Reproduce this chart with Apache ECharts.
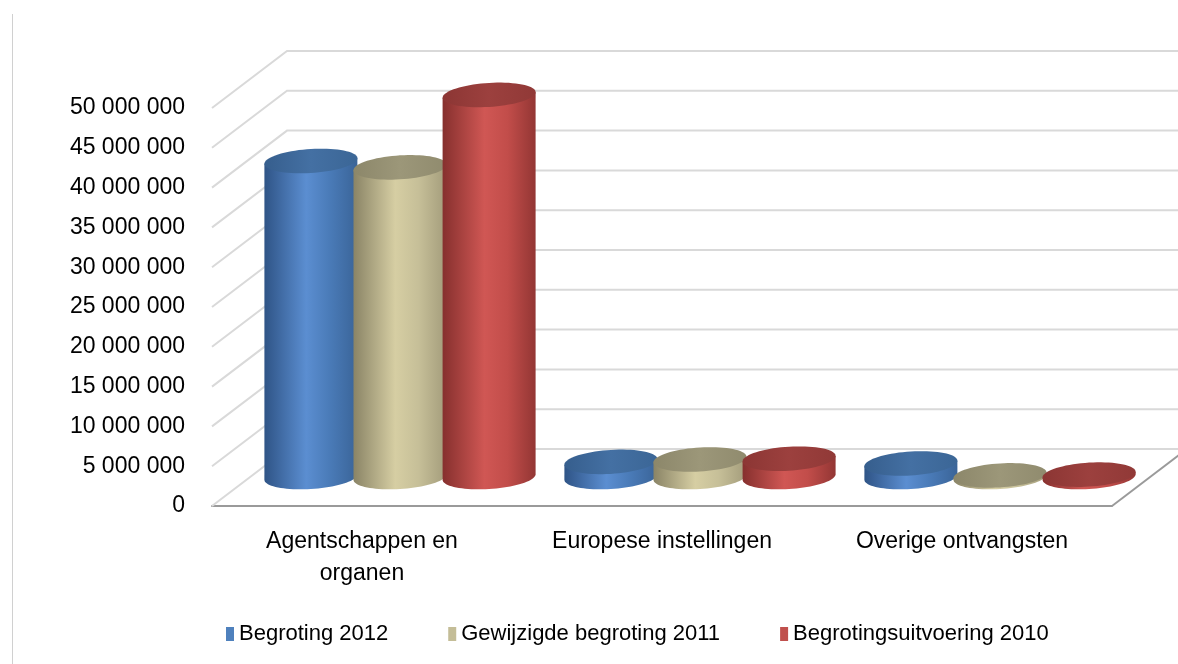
<!DOCTYPE html>
<html>
<head>
<meta charset="utf-8">
<script src="https://cdn.jsdelivr.net/npm/echarts@6/dist/echarts.min.js"></script>
<style>
html,body{margin:0;padding:0;background:#fff;}
#chart{width:1178px;height:664px;}
</style>
</head>
<body>
<div id="chart"></div>
<script>
// ---- data ----
const categories = ['Agentschappen en\norganen', 'Europese instellingen', 'Overige ontvangsten'];
const seriesNames = ['Begroting 2012', 'Gewijzigde begroting 2011', 'Begrotingsuitvoering 2010'];
const begroting2012 = [39700000, 1900000, 1700000];
const gewijzigd2011 = [38900000, 2200000, 200000];
const uitvoering2010 = [48000000, 2300000, 300000];
const yTicks = [0, 5000000, 10000000, 15000000, 20000000, 25000000, 30000000, 35000000, 40000000, 45000000, 50000000];

// ---- style constants ----
const FONT = "'Liberation Sans', Arial, sans-serif";
const WALL_DX = 75, WALL_DY = -57;      // depth of floor / back wall
const MID_DX = 38, MID_DY = -29;        // cylinders sit mid-depth
const RY = 12, SHEAR = 0.06;
const palettes = [
  {base:'#4F81BD', side:['#2f5486','#5b8ed1','#4a7bb8','#3a6498'], top:['#365e8d','#4470a3','#3b6696']},
  {base:'#C4BD97', side:['#8a8466','#d6cea3','#c6bf98','#a39c7b'], top:['#8c876a','#9c9779','#908b6e']},
  {base:'#C0504D', side:['#86302e','#d05754','#c24d4a','#933634'], top:['#8c3634','#9c403e','#913937']}
];
const dataSets = [begroting2012, gewijzigd2011, uitvoering2010];

function fmt(v){ return String(v).replace(/\B(?=(\d{3})+(?!\d))/g, ' '); }

function cylinderRenderer(si){
  const pal = palettes[si];
  return function(params, api){
    const cat = api.value(0), val = api.value(1);
    const base = api.coord([cat, 0]);
    const top = api.coord([cat, val]);
    const band = api.size([1, 0])[0];
    const cx = base[0] + MID_DX + (si - 1) * band * 0.297;
    const rx = band * 0.155;
    const by = base[1] + MID_DY, ty = top[1] + MID_DY;
    const pt = (cy, t) => [cx + rx * Math.cos(t), cy + RY * Math.sin(t) - rx * Math.cos(t) * SHEAR];
    const body = [pt(ty, Math.PI)];
    const N = 40;
    for (let k = 0; k <= N; k++) body.push(pt(by, Math.PI - Math.PI * k / N));
    body.push(pt(ty, 0));
    const cap = [];
    for (let k = 0; k < 72; k++) cap.push(pt(ty, 2 * Math.PI * k / 72));
    return {
      type: 'group',
      children: [
        {type:'polygon', shape:{points: body}, style:{fill: new echarts.graphic.LinearGradient(0,0,1,0,[
          {offset:0,color:pal.side[0]},{offset:0.45,color:pal.side[1]},{offset:0.7,color:pal.side[2]},{offset:1,color:pal.side[3]}])}},
        {type:'polygon', shape:{points: cap}, style:{fill: new echarts.graphic.LinearGradient(0,0,1,0,[
          {offset:0,color:pal.top[0]},{offset:0.5,color:pal.top[1]},{offset:1,color:pal.top[2]}])}}
      ]
    };
  };
}

const chart = echarts.init(document.getElementById('chart'), null, {renderer:'canvas'});
const option = {
  animation: false,
  backgroundColor: '#fff',
  textStyle: {fontFamily: FONT},
  graphic: [{type:'line', shape:{x1:12.5, y1:14, x2:12.5, y2:664}, style:{stroke:'#d0d0d0', lineWidth:1}}],
  grid: {left: 212, right: 66, top: 108, bottom: 158},
  legend: {
    data: seriesNames,
    left: 226, top: 623, padding: 0,
    icon: 'rect', itemWidth: 8, itemHeight: 14, itemGap: 60,
    textStyle: {fontSize: 22, color: '#000', fontFamily: FONT}
  },
  xAxis: {
    type: 'category', data: categories,
    axisLine: {lineStyle: {color: '#9a9a9a', width: 2}},
    axisTick: {show: false},
    axisLabel: {fontSize: 23, color: '#000', lineHeight: 32, margin: 20, fontFamily: FONT, interval: 0}
  },
  yAxis: {
    type: 'value', min: 0, max: 50000000, interval: 5000000,
    axisLine: {show: false}, axisTick: {show: false}, splitLine: {show: false},
    axisLabel: {fontSize: 23, color: '#000', margin: 27, fontFamily: FONT, formatter: fmt}
  },
  series: [
    {
      type: 'custom', name: 'wall', z: 1, silent: true,
      encode: {x: 0, y: 1},
      data: yTicks.map(v => [0, v]),
      renderItem: function(params, api){
        const cs = params.coordSys;
        const y = api.coord([0, api.value(1)])[1];
        const left = cs.x, right = cs.x + cs.width;
        const children = [{type:'polyline', shape:{points:[[left,y],[left+WALL_DX,y+WALL_DY],[right+WALL_DX+20,y+WALL_DY]]},
          style:{stroke:'#d9d9d9', lineWidth:2, fill:null}}];
        if (params.dataIndex === 0) {
          children.push({type:'line', shape:{x1:right, y1:y, x2:right+WALL_DX, y2:y+WALL_DY}, style:{stroke:'#9a9a9a', lineWidth:2}});
        }
        return {type:'group', children: children};
      }
    }
  ].concat(dataSets.map((arr, si) => ({
    type: 'custom', name: seriesNames[si], z: 2 + si,
    itemStyle: {color: palettes[si].base},
    encode: {x: 0, y: 1},
    data: arr.map((v, i) => [i, v]),
    renderItem: cylinderRenderer(si)
  })))
};
chart.setOption(option);
</script>
</body>
</html>
